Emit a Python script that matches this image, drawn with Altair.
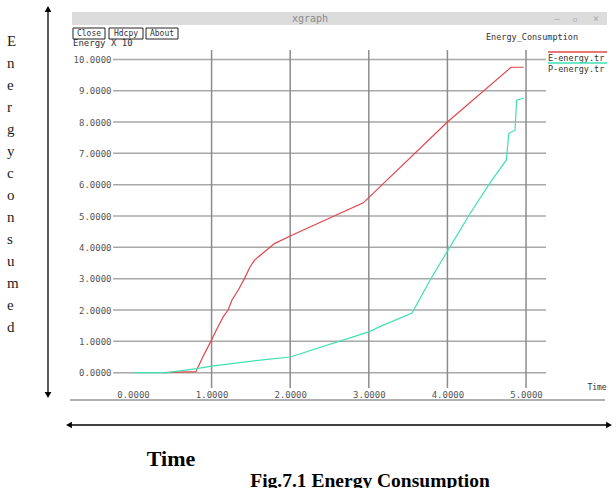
import altair as alt
import pandas as pd

# ---- data ----
e_time = [0.38, 0.80, 0.90, 1.00, 1.06, 1.15, 1.21, 1.26, 1.34, 1.42, 1.49, 1.55, 1.62, 1.80, 2.00, 2.93, 4.00, 4.81, 4.97]
e_energy = [0.0, 0.03, 0.56, 1.04, 1.36, 1.79, 2.00, 2.32, 2.64, 3.01, 3.38, 3.60, 3.75, 4.12, 4.36, 5.42, 8.00, 9.75, 9.75]
p_time = [0.0, 0.43, 0.81, 1.00, 1.62, 2.00, 3.00, 3.14, 3.55, 3.78, 4.01, 4.29, 4.54, 4.75, 4.78, 4.86, 4.88, 4.97]
p_energy = [0.0, 0.0, 0.13, 0.21, 0.40, 0.50, 1.30, 1.47, 1.90, 2.96, 3.92, 5.09, 6.05, 6.79, 7.64, 7.74, 8.70, 8.76]
series_names = ["E-energy.tr", "P-energy.tr"]
series_colors = ["#e0474c", "#3fe0b5"]
x_ticks = [0, 1, 2, 3, 4, 5]
x_grid = [1, 2, 3, 4, 5]
y_ticks = list(range(0, 11))
side_letters = ["E", "n", "e", "r", "g", "y", " ", "c", "o", "n", "s", "u", "m", "e", "d"]

W, H = 433, 338
L, T = 113, 50

df = pd.concat([
    pd.DataFrame({"t": e_time, "v": e_energy, "s": series_names[0]}),
    pd.DataFrame({"t": p_time, "v": p_energy, "s": series_names[1]}),
])

xs = alt.Scale(domain=[-0.254, 5.254], nice=False, zero=False)
ys = alt.Scale(domain=[-0.49, 10.30], nice=False, zero=False)
mono = "DejaVu Sans Mono"
one = pd.DataFrame({"a": [0]})

x_axis = alt.Axis(values=x_ticks, format=".4f", grid=False, domain=False, ticks=False,
                  labelFont=mono, labelFontSize=9, labelColor="#555",
                  labelPadding=2, labelOverlap=False, title=None)
y_axis = alt.Axis(values=y_ticks, format=".4f", grid=False, domain=False, ticks=False,
                  labelFont=mono, labelFontSize=9, labelColor="#555",
                  labelPadding=2, labelOverlap=False, title=None)


def px(x):
    return x - L


def py(y):
    return y - T


def rule(x1, y1, x2, y2, color="black", w=1.0):
    return alt.Chart(one).mark_rule(color=color, strokeWidth=w).encode(
        x=alt.value(px(x1)), x2=alt.value(px(x2)), y=alt.value(py(y1)), y2=alt.value(py(y2)))


def rect(x1, y1, x2, y2, fill, stroke=None):
    kw = dict(fill=fill)
    if stroke:
        kw.update(stroke=stroke, strokeWidth=1)
    return alt.Chart(one).mark_rect(**kw).encode(
        x=alt.value(px(x1)), x2=alt.value(px(x2)), y=alt.value(py(y1)), y2=alt.value(py(y2)))


def text(x, y, s, size=8, font=mono, color="#333", align="left", baseline="middle", weight="normal", **kw):
    return alt.Chart(one).mark_text(fontSize=size, font=font, color=color, align=align,
                                    baseline=baseline, fontWeight=weight, **kw).encode(
        x=alt.value(px(x)), y=alt.value(py(y)), text=alt.value(s))


def tri(x, y, shape):
    return alt.Chart(one).mark_point(shape=shape, filled=True, color="black", size=45, opacity=1).encode(
        x=alt.value(px(x)), y=alt.value(py(y)))


hgrid = alt.Chart(pd.DataFrame({"v": y_ticks})).mark_rule(color="#a8a8a8", strokeWidth=1.5).encode(
    y=alt.Y("v:Q", scale=ys, axis=y_axis),
    x=alt.value(0), x2=alt.value(W))

vgrid = alt.Chart(pd.DataFrame({"t": x_grid})).mark_rule(color="#8c8c8c", strokeWidth=1.5).encode(
    x=alt.X("t:Q", scale=xs, axis=x_axis),
    y=alt.value(0), y2=alt.value(H))

lines = alt.Chart(df).mark_line(strokeWidth=1.2).encode(
    x=alt.X("t:Q", scale=xs, axis=x_axis),
    y=alt.Y("v:Q", scale=ys, axis=y_axis),
    color=alt.Color("s:N", scale=alt.Scale(domain=series_names, range=series_colors), legend=None),
    order="t:Q")

layers = [
    hgrid, vgrid, lines,
    # xgraph window chrome
    rect(72, 12, 607, 25, "#dcdcdc"),
    text(310, 18.5, "xgraph", size=10, color="#8a8a8a", align="center"),
    text(557, 18.5, "–", size=9, color="#aaa", align="center"),
    text(575, 18.5, "▫", size=9, color="#aaa", align="center"),
    text(596, 18.5, "×", size=10, color="#aaa", align="center"),
    text(73, 43, "Energy X 10", size=9, color="#333"),
    rect(73, 28, 105, 39, "white", "#222"),
    rect(109, 28, 143, 39, "white", "#222"),
    rect(146, 28, 178, 39, "white", "#222"),
    text(89, 33.5, "Close", size=8, align="center"),
    text(126, 33.5, "Hdcpy", size=8, align="center"),
    text(162, 33.5, "About", size=8, align="center"),
    text(532, 37, "Energy_Consumption", size=8.5, align="center"),
    rule(548, 52, 607, 52, series_colors[0], 1.5),
    text(548, 58, "E-energy.tr", size=8.5),
    rule(548, 63, 607, 63, series_colors[1], 1.5),
    text(548, 69, "P-energy.tr", size=8.5),
    text(597, 388, "Time", size=8, align="center"),
    rule(70, 400, 605, 400, "#b0b0b0", 2),
    # document annotations
    rule(48, 8, 48, 396, "black", 1.3),
    tri(48, 9, "triangle-up"),
    tri(48, 395, "triangle-down"),
    rule(68, 425, 610, 425, "black", 1.3),
    tri(69, 425, "triangle-left"),
    tri(609, 425, "triangle-right"),
    alt.Chart(one).mark_text(font="Liberation Serif", fontSize=15, color="#222", align="left",
                             baseline="middle", lineHeight=22).encode(
        x=alt.value(px(7)), y=alt.value(py(41)), text=alt.value(side_letters)),
    text(171, 466, "Time", size=22, font="Liberation Serif", color="black", align="center",
         baseline="alphabetic", weight="bold"),
    text(370, 487, "Fig.7.1 Energy Consumption", size=19.5, font="Liberation Serif", color="black",
         align="center", baseline="alphabetic", weight="bold"),
]

chart = alt.layer(*layers).properties(
    width=W, height=H,
    padding={"left": L, "top": T, "right": 616 - L - W, "bottom": 488 - T - H},
    autosize=alt.AutoSizeParams(type="none"),
    background="white",
).configure_view(stroke=None)

chart.save("out.html", embed_options={"renderer": "svg", "actions": False})
